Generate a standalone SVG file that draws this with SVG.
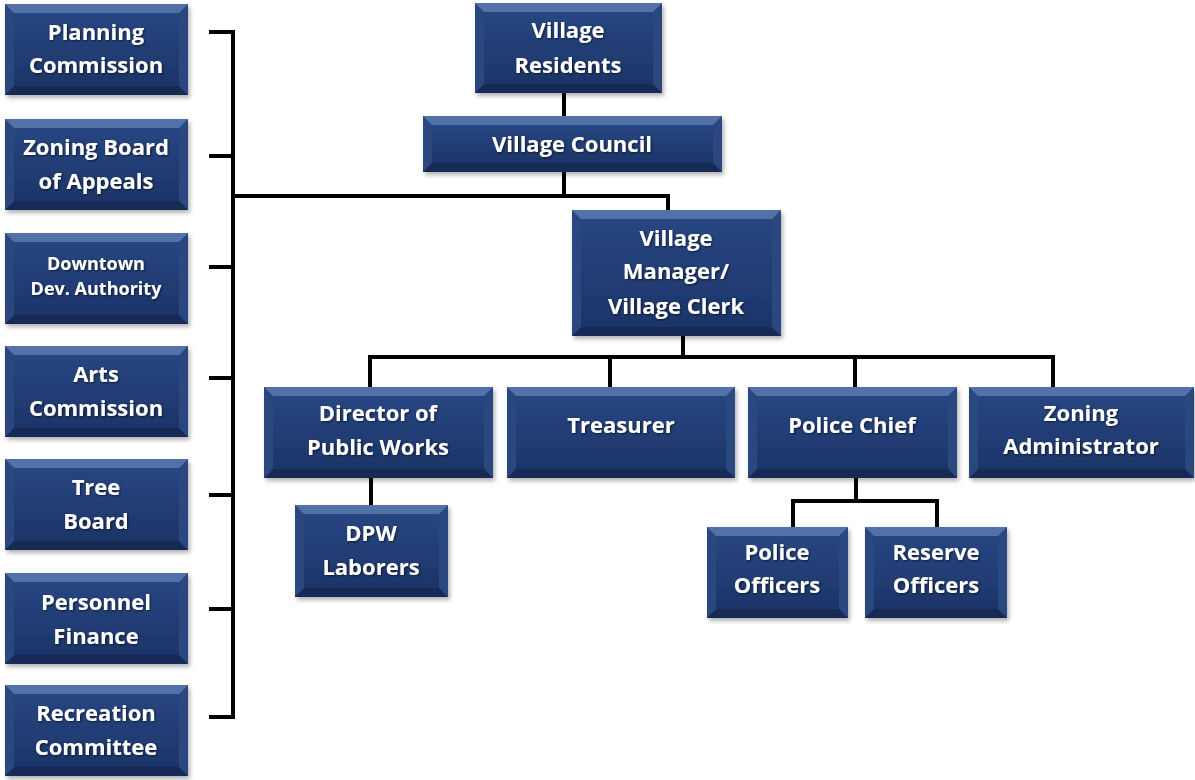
<svg xmlns="http://www.w3.org/2000/svg" width="1195" height="780" viewBox="0 0 1195 780">
<defs>
<linearGradient id="face" x1="0" y1="0" x2="0" y2="1">
<stop offset="0" stop-color="#284682"/>
<stop offset="1" stop-color="#1c3568"/>
</linearGradient>
<filter id="sh" x="-10%" y="-10%" width="120%" height="130%">
<feDropShadow dx="2" dy="3" stdDeviation="2" flood-color="#000" flood-opacity="0.3"/>
</filter>
<filter id="tsh" x="-10%" y="-20%" width="120%" height="140%">
<feDropShadow dx="1" dy="1" stdDeviation="0.8" flood-color="#000" flood-opacity="0.6"/>
</filter>
</defs>
<style>
.side{fill:#2a4680}
.top{fill:#5371a9}
.bot{fill:#162b55}
.in{fill:url(#face)}
.n{filter:url(#sh)}
.t{font-family:"Open Sans","Noto Sans",sans-serif;font-weight:bold;font-size:22px;fill:#ffffff;text-anchor:middle;filter:url(#tsh)}
.s{font-size:18px}
.c{fill:none;stroke:#000;stroke-width:4;stroke-linejoin:miter;stroke-linecap:square}
</style>
<rect width="1195" height="780" fill="#ffffff"/>
<g id="connectors" class="c">
<path d="M233 32 V717"/>
<path d="M211 32 H233 M211 156 H233 M211 267 H233 M211 378 H233 M211 495 H233 M211 609 H233 M211 717 H233"/>
<path d="M233 196 H668 V210"/>
<path d="M564 93 V116"/>
<path d="M564 172 V196"/>
<path d="M683 336 V357"/>
<path d="M370 387 V357 H1053 V387"/>
<path d="M610 357 V387"/>
<path d="M855 357 V387"/>
<path d="M371 478 V505"/>
<path d="M856 478 V501"/>
<path d="M793 527 V501 H937 V527"/>
</g>
<g id="planning" class="n">
<rect class="side" x="5" y="4" width="183" height="91"/>
<polygon class="top" points="5,4 188,4 179,13 14,13"/>
<polygon class="bot" points="5,95 14,86 179,86 188,95"/>
<rect class="in" x="14" y="13" width="165" height="73"/>
<text class="t" x="96" y="40">Planning</text>
<text class="t" x="96" y="73">Commission</text>
</g>
<g id="zoning-board" class="n">
<rect class="side" x="5" y="119" width="183" height="91"/>
<polygon class="top" points="5,119 188,119 179,128 14,128"/>
<polygon class="bot" points="5,210 14,201 179,201 188,210"/>
<rect class="in" x="14" y="128" width="165" height="73"/>
<text class="t" x="96" y="155">Zoning Board</text>
<text class="t" x="96" y="189">of Appeals</text>
</g>
<g id="downtown" class="n">
<rect class="side" x="5" y="233" width="183" height="91"/>
<polygon class="top" points="5,233 188,233 179,242 14,242"/>
<polygon class="bot" points="5,324 14,315 179,315 188,324"/>
<rect class="in" x="14" y="242" width="165" height="73"/>
<text class="t s" x="96" y="270">Downtown</text>
<text class="t s" x="96" y="295">Dev. Authority</text>
</g>
<g id="arts" class="n">
<rect class="side" x="5" y="346" width="183" height="91"/>
<polygon class="top" points="5,346 188,346 179,355 14,355"/>
<polygon class="bot" points="5,437 14,428 179,428 188,437"/>
<rect class="in" x="14" y="355" width="165" height="73"/>
<text class="t" x="96" y="382">Arts</text>
<text class="t" x="96" y="416">Commission</text>
</g>
<g id="tree" class="n">
<rect class="side" x="5" y="459" width="183" height="91"/>
<polygon class="top" points="5,459 188,459 179,468 14,468"/>
<polygon class="bot" points="5,550 14,541 179,541 188,550"/>
<rect class="in" x="14" y="468" width="165" height="73"/>
<text class="t" x="96" y="495">Tree</text>
<text class="t" x="96" y="529">Board</text>
</g>
<g id="personnel" class="n">
<rect class="side" x="5" y="573" width="183" height="91"/>
<polygon class="top" points="5,573 188,573 179,582 14,582"/>
<polygon class="bot" points="5,664 14,655 179,655 188,664"/>
<rect class="in" x="14" y="582" width="165" height="73"/>
<text class="t" x="96" y="610">Personnel</text>
<text class="t" x="96" y="644">Finance</text>
</g>
<g id="recreation" class="n">
<rect class="side" x="5" y="685" width="183" height="91"/>
<polygon class="top" points="5,685 188,685 179,694 14,694"/>
<polygon class="bot" points="5,776 14,767 179,767 188,776"/>
<rect class="in" x="14" y="694" width="165" height="73"/>
<text class="t" x="96" y="721">Recreation</text>
<text class="t" x="96" y="755">Committee</text>
</g>
<g id="residents" class="n">
<rect class="side" x="475" y="3" width="187" height="90"/>
<polygon class="top" points="475,3 662,3 653,12 484,12"/>
<polygon class="bot" points="475,93 484,84 653,84 662,93"/>
<rect class="in" x="484" y="12" width="169" height="72"/>
<text class="t" x="568" y="38">Village</text>
<text class="t" x="568" y="73">Residents</text>
</g>
<g id="council" class="n">
<rect class="side" x="423" y="116" width="299" height="56"/>
<polygon class="top" points="423,116 722,116 713,125 432,125"/>
<polygon class="bot" points="423,172 432,163 713,163 722,172"/>
<rect class="in" x="432" y="125" width="281" height="38"/>
<text class="t" x="572" y="152">Village Council</text>
</g>
<g id="manager" class="n">
<rect class="side" x="572" y="210" width="209" height="126"/>
<polygon class="top" points="572,210 781,210 772,219 581,219"/>
<polygon class="bot" points="572,336 581,327 772,327 781,336"/>
<rect class="in" x="581" y="219" width="191" height="108"/>
<text class="t" x="676" y="246">Village</text>
<text class="t" x="676" y="279">Manager/</text>
<text class="t" x="676" y="314">Village Clerk</text>
</g>
<g id="director" class="n">
<rect class="side" x="264" y="387" width="229" height="91"/>
<polygon class="top" points="264,387 493,387 484,396 273,396"/>
<polygon class="bot" points="264,478 273,469 484,469 493,478"/>
<rect class="in" x="273" y="396" width="211" height="73"/>
<text class="t" x="378" y="421">Director of</text>
<text class="t" x="378" y="455">Public Works</text>
</g>
<g id="treasurer" class="n">
<rect class="side" x="507" y="387" width="228" height="91"/>
<polygon class="top" points="507,387 735,387 726,396 516,396"/>
<polygon class="bot" points="507,478 516,469 726,469 735,478"/>
<rect class="in" x="516" y="396" width="210" height="73"/>
<text class="t" x="621" y="433">Treasurer</text>
</g>
<g id="police-chief" class="n">
<rect class="side" x="748" y="387" width="209" height="91"/>
<polygon class="top" points="748,387 957,387 948,396 757,396"/>
<polygon class="bot" points="748,478 757,469 948,469 957,478"/>
<rect class="in" x="757" y="396" width="191" height="73"/>
<text class="t" x="852" y="433">Police Chief</text>
</g>
<g id="zoning-admin" class="n">
<rect class="side" x="969" y="387" width="225" height="91"/>
<polygon class="top" points="969,387 1194,387 1185,396 978,396"/>
<polygon class="bot" points="969,478 978,469 1185,469 1194,478"/>
<rect class="in" x="978" y="396" width="207" height="73"/>
<text class="t" x="1081" y="421">Zoning</text>
<text class="t" x="1081" y="454">Administrator</text>
</g>
<g id="dpw" class="n">
<rect class="side" x="295" y="505" width="153" height="92"/>
<polygon class="top" points="295,505 448,505 439,514 304,514"/>
<polygon class="bot" points="295,597 304,588 439,588 448,597"/>
<rect class="in" x="304" y="514" width="135" height="74"/>
<text class="t" x="371" y="541">DPW</text>
<text class="t" x="371" y="575">Laborers</text>
</g>
<g id="police-officers" class="n">
<rect class="side" x="707" y="527" width="141" height="91"/>
<polygon class="top" points="707,527 848,527 839,536 716,536"/>
<polygon class="bot" points="707,618 716,609 839,609 848,618"/>
<rect class="in" x="716" y="536" width="123" height="73"/>
<text class="t" x="777" y="560">Police</text>
<text class="t" x="777" y="593">Officers</text>
</g>
<g id="reserve-officers" class="n">
<rect class="side" x="865" y="527" width="142" height="91"/>
<polygon class="top" points="865,527 1007,527 998,536 874,536"/>
<polygon class="bot" points="865,618 874,609 998,609 1007,618"/>
<rect class="in" x="874" y="536" width="124" height="73"/>
<text class="t" x="936" y="560">Reserve</text>
<text class="t" x="936" y="593">Officers</text>
</g>
</svg>
